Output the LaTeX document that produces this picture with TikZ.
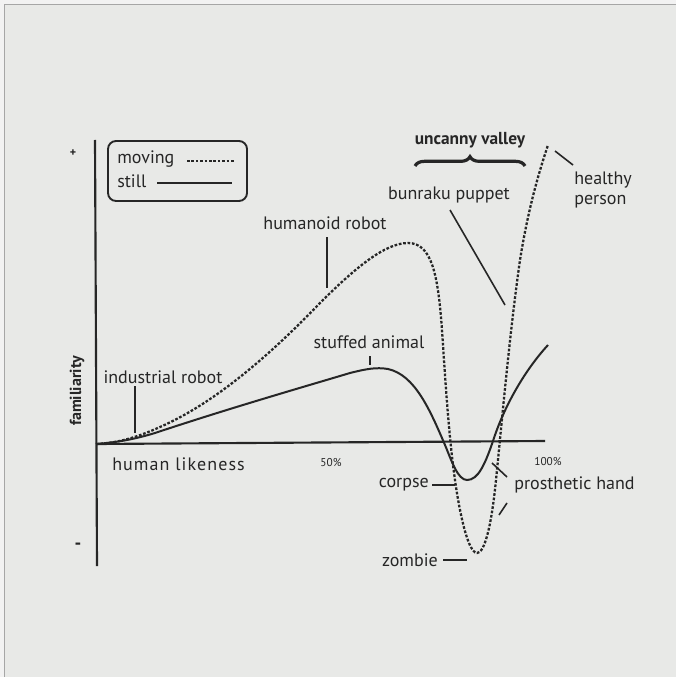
\documentclass[tikz,border=0pt]{standalone}
\usepackage{fontspec}
\setmainfont{PT Sans}
\usetikzlibrary{decorations.pathreplacing}
\definecolor{paper}{HTML}{E8E9E7}
\definecolor{ink}{HTML}{262626}
\definecolor{frame}{HTML}{F2F2F2}
\begin{document}
\begin{tikzpicture}[x=0.75pt,y=-0.75pt,
  lbl/.style={text=ink,font=\fontsize{13.5}{15}\selectfont,inner sep=0pt},
  smalllbl/.style={text=ink,font=\fontsize{8.5}{9}\selectfont,inner sep=0pt},
  boldlbl/.style={text=ink,font=\fontsize{13}{15}\selectfont\bfseries,inner sep=0pt},
  axisline/.style={draw=ink,line width=1.6pt},
  leader/.style={draw=ink,line width=1.2pt},
  stillcurve/.style={draw=ink,line width=1.5pt},
  movingcurve/.style={draw=ink,line width=1.7pt,dash pattern=on 2pt off 1.3pt}]
\useasboundingbox (0,0) rectangle (676,677);
\fill[frame] (0,0) rectangle (676,677);
\fill[paper] (4,4) rectangle (676,677);
\draw[gray!70,line width=1pt] (4.5,677) -- (4.5,4.5) -- (676,4.5);
% axes
\coordinate (ytop) at (95,140);
\coordinate (ybot) at (97,566);
\coordinate (orig) at (96,444);
\coordinate (xend) at (545,441);
\draw[axisline] (ytop) -- (ybot);
\draw[axisline] (orig) -- (xend);
\node[text=ink,font=\fontsize{9}{10}\selectfont\bfseries,inner sep=0pt] (plus) at (73,153) {+};
\node[text=ink,font=\fontsize{14}{15}\selectfont\bfseries,inner sep=0pt] (minus) at (78,546) {-};
\node[boldlbl,font=\fontsize{12}{14}\selectfont\bfseries,rotate=90] (fam) at (77,391) {familiarity};
\node[lbl,anchor=west] (hl) at (112,464) {\addfontfeature{LetterSpace=6}human likeness};
\node[smalllbl] (p50) at (331,463) {50\%};
\node[smalllbl] (p100) at (548,462) {100\%};
% legend
\node[draw=ink,line width=1.4pt,rounded corners=6pt,minimum width=104.25pt,minimum height=45pt,inner sep=0pt] (legend) at (177.5,171) {};
\node[lbl,anchor=west] (mv) at (117,159) {moving};
\node[lbl,anchor=west] (st) at (117,181) {still};
\coordinate (mva) at (187,161);
\coordinate (mvb) at (234,161);
\coordinate (sta) at (157,183);
\coordinate (stb) at (232,183);
\draw[movingcurve,line width=1.2pt] (mva) -- (mvb);
\draw[stillcurve,line width=1.2pt] (sta) -- (stb);
% moving (dashed) curve
\draw[movingcurve] (orig) .. controls (120,443) and (140,436) .. (160,427)
  .. controls (215,403) and (270,355) .. (320,303)
  .. controls (355,268) and (385,243) .. (408,243)
  .. controls (432,243) and (438,275) .. (442,330)
  .. controls (446,390) and (450,460) .. (460,510)
  .. controls (466,540) and (472,553) .. (477,553)
  .. controls (484,553) and (491,530) .. (496,480)
  .. controls (502,420) and (510,330) .. (520,260)
  .. controls (528,210) and (538,175) .. (548,145);
% still (solid) curve
\draw[stillcurve] (orig) .. controls (120,442) and (135,439) .. (155,433)
  .. controls (230,408) and (310,385) .. (350,373)
  .. controls (366,369) and (376,367) .. (388,369)
  .. controls (415,375) and (430,410) .. (445,445)
  .. controls (452,462) and (458,480) .. (467,480)
  .. controls (478,480) and (485,465) .. (494,438)
  .. controls (505,405) and (525,370) .. (548,345);
% labels and leaders
\node[lbl] (ind) at (163,377) {industrial robot};
\coordinate (inda) at (135,386);
\coordinate (indb) at (135,433);
\draw[leader] (inda) -- (indb);
\node[lbl] (hum) at (325,223) {humanoid robot};
\coordinate (huma) at (327,237);
\coordinate (humb) at (327,288);
\draw[leader] (huma) -- (humb);
\node[lbl] (stuf) at (369,342) {stuffed animal};
\coordinate (stufa) at (370,356);
\coordinate (stufb) at (370,365);
\draw[leader] (stufa) -- (stufb);
\node[boldlbl] (uv) at (470,140) {uncanny valley};
\coordinate (bra) at (415,166);
\coordinate (brb) at (525,166);
\draw[draw=ink,line width=2.4pt,decorate,decoration={brace,amplitude=7pt}] (bra) -- (brb);
\node[lbl] (bun) at (449,195) {bunraku puppet};
\coordinate (buna) at (450,210);
\coordinate (bunb) at (505,305);
\draw[leader] (buna) -- (bunb);
\node[lbl,anchor=west,align=left] (hp) at (574,190) {healthy\\person};
\coordinate (hpa) at (555,151);
\coordinate (hpb) at (573,165);
\draw[leader] (hpa) -- (hpb);
\node[lbl,anchor=east] (cor) at (429,485) {corpse};
\coordinate (cora) at (432,485);
\coordinate (corb) at (455,485);
\draw[leader] (cora) -- (corb);
\node[lbl,anchor=west] (pro) at (514,485) {prosthetic hand};
\coordinate (proa) at (492,463);
\coordinate (prob) at (507,477);
\coordinate (proc) at (499,515);
\coordinate (prod) at (507,503);
\draw[leader] (proa) -- (prob);
\draw[leader] (proc) -- (prod);
\node[lbl,anchor=east] (zom) at (438,560) {zombie};
\coordinate (zoma) at (443,560);
\coordinate (zomb) at (467,560);
\draw[leader] (zoma) -- (zomb);
\end{tikzpicture}
\end{document}
